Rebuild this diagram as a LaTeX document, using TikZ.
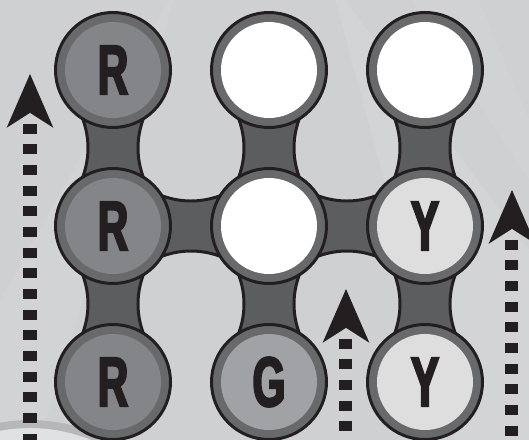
\documentclass[tikz,border=0pt]{standalone}
\usepackage{fontspec}
\newfontfamily\knobfont[FakeStretch=0.6,FakeBold=3]{Liberation Sans}
\usetikzlibrary{arrows.meta,calc,backgrounds}
\definecolor{ink}{RGB}{35,31,32}
\definecolor{board}{RGB}{207,208,210}
\definecolor{boardlight}{RGB}{224,225,226}
\definecolor{band}{RGB}{182,183,185}
\definecolor{ring}{RGB}{104,105,107}
\definecolor{stem}{RGB}{92,93,95}
\definecolor{redface}{RGB}{132,133,136}
\definecolor{greenface}{RGB}{161,162,165}
\definecolor{yellowface}{RGB}{222,222,223}
\tikzset{
  knob/.style={circle, draw=ink, line width=1.7pt, fill=ring, minimum size=2.3cm,
               inner sep=0pt, outer sep=0pt, text=ink,
               font=\knobfont\bfseries\fontsize{40pt}{40pt}\selectfont,
               path picture={\fill[#1] (path picture bounding box.center) circle (0.96cm);}},
  vlink/.style={draw=ink, line width=1.7pt, fill=stem,
               to path={($(\tikztostart)+(-34,40)$) .. controls +(12,25) and +(12,-25) .. ($(\tikztotarget)+(-34,-40)$)
                        -- ($(\tikztotarget)+(34,-40)$) .. controls +(-12,-25) and +(-12,25) .. ($(\tikztostart)+(34,40)$) -- cycle}},
  hlink/.style={draw=ink, line width=1.7pt, fill=stem,
               to path={($(\tikztostart)+(40,-34)$) .. controls +(25,12) and +(-25,12) .. ($(\tikztotarget)+(-40,-34)$)
                        -- ($(\tikztotarget)+(-40,34)$) .. controls +(-25,-12) and +(25,-12) .. ($(\tikztostart)+(40,34)$) -- cycle}},
  guide/.style={draw=ink, line width=7.4pt, dash pattern=on 5.67pt off 6.1pt, dash phase=5.67pt,
               {Stealth[length=30.6pt, width=26.6pt, inset=8.5pt, line width=0pt]}-},
}
\begin{document}
\begin{tikzpicture}[x=0.02cm, y=-0.02cm]
    \useasboundingbox (0,0) rectangle (529,440);
    \clip (0,0) rectangle (529,440);
    \begin{scope}[on background layer]
      \fill[board] (0,0) rectangle (529,440);
      \fill[white, opacity=0.10] (330,-20) -- (529,250) -- (529,440) -- (455,440) -- cycle;
      \fill[white, opacity=0.07] (180,-20) -- (40,440) -- (0,440) -- (0,300) -- cycle;
      \fill[white, opacity=0.06] (400,-20) -- (470,-20) -- (529,120) -- (529,180) -- cycle;
      \fill[boardlight] (30,590) circle (162);
      \draw[band, line width=4.5pt] (30,590) circle (166);
    \end{scope}
    \node[knob=redface] (r1c1) at (113,70) {R};
    \node[knob=white] (r1c2) at (269,70) {};
    \node[knob=white] (r1c3) at (425,70) {};
    \node[knob=redface] (r2c1) at (113,226) {R};
    \node[knob=white] (r2c2) at (269,226) {};
    \node[knob=yellowface] (r2c3) at (425,226) {Y};
    \node[knob=redface] (r3c1) at (113,382) {R};
    \node[knob=greenface] (r3c2) at (269,382) {G};
    \node[knob=yellowface] (r3c3) at (425,382) {Y};
    \begin{scope}[on background layer]
      \foreach \c in {1,2,3} {
        \path[vlink] (r1c\c) to (r2c\c);
        \path[vlink] (r2c\c) to (r3c\c);
      }
      \path[hlink] (r2c1) to (r2c2);
      \path[hlink] (r2c2) to (r2c3);
    \end{scope}
    \coordinate (tipL) at (30,74);   \coordinate (footL) at (30,450);
    \coordinate (tipM) at (346,289); \coordinate (footM) at (346,450);
    \coordinate (tipR) at (512,190); \coordinate (footR) at (512,450);
    \draw[guide] (tipL) -- (footL);
    \draw[guide] (tipM) -- (footM);
    \draw[guide] (tipR) -- (footR);
\end{tikzpicture}
\end{document}
